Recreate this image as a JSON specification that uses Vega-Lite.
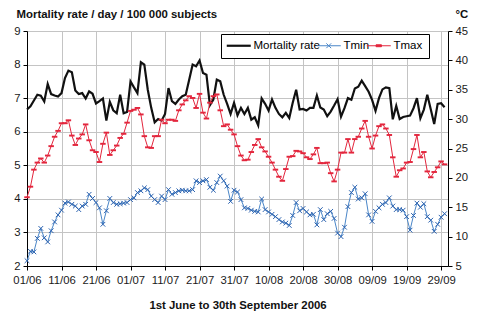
{
"$schema":"https://vega.github.io/schema/vega-lite/v6.json",
"width":421,"height":235,
"autosize":{"type":"none"},
"padding":{"left":27,"top":31,"right":48,"bottom":58},
"background":"#ffffff",
"config":{"font":"Liberation Sans","view":{"stroke":null},
"axis":{"domainColor":"#000","domainWidth":1,"tickColor":"#000","tickSize":4,"labelColor":"#1a1a1a","labelFont":"Liberation Sans","labelFontSize":11.3,"labelOverlap":false,"gridColor":"#c4c4c4","gridWidth":1,"titleFont":"Liberation Sans","titleFontSize":11.4,"titleFontWeight":"bold","titleColor":"#111"}},
"data":{"values":[
{"date":"2006-06-01","mortality":6.66,"tmin":5.9,"tmax":16.7},
{"date":"2006-06-02","mortality":6.76,"tmin":7.5,"tmax":18.5},
{"date":"2006-06-03","mortality":6.93,"tmin":7.4,"tmax":21.4},
{"date":"2006-06-04","mortality":7.10,"tmin":9.7,"tmax":22.6},
{"date":"2006-06-05","mortality":7.07,"tmin":11.4,"tmax":23.3},
{"date":"2006-06-06","mortality":6.90,"tmin":9.8,"tmax":22.6},
{"date":"2006-06-07","mortality":7.42,"tmin":9.1,"tmax":23.8},
{"date":"2006-06-08","mortality":7.12,"tmin":11.0,"tmax":25.4},
{"date":"2006-06-09","mortality":7.08,"tmin":12.5,"tmax":27.0},
{"date":"2006-06-10","mortality":7.05,"tmin":13.7,"tmax":28.0},
{"date":"2006-06-11","mortality":7.15,"tmin":14.5,"tmax":29.3},
{"date":"2006-06-12","mortality":7.60,"tmin":15.7,"tmax":29.3},
{"date":"2006-06-13","mortality":7.82,"tmin":15.9,"tmax":29.8},
{"date":"2006-06-14","mortality":7.77,"tmin":15.5,"tmax":27.2},
{"date":"2006-06-15","mortality":7.23,"tmin":15.2,"tmax":25.6},
{"date":"2006-06-16","mortality":7.12,"tmin":14.6,"tmax":26.7},
{"date":"2006-06-17","mortality":7.15,"tmin":15.2,"tmax":27.4},
{"date":"2006-06-18","mortality":6.99,"tmin":15.5,"tmax":29.1},
{"date":"2006-06-19","mortality":7.20,"tmin":17.2,"tmax":26.4},
{"date":"2006-06-20","mortality":7.13,"tmin":16.5,"tmax":24.7},
{"date":"2006-06-21","mortality":6.84,"tmin":15.8,"tmax":24.4},
{"date":"2006-06-22","mortality":6.91,"tmin":14.9,"tmax":22.7},
{"date":"2006-06-23","mortality":6.99,"tmin":12.1,"tmax":25.8},
{"date":"2006-06-24","mortality":6.33,"tmin":14.4,"tmax":27.7},
{"date":"2006-06-25","mortality":6.89,"tmin":16.5,"tmax":23.9},
{"date":"2006-06-26","mortality":6.64,"tmin":15.8,"tmax":24.7},
{"date":"2006-06-27","mortality":6.55,"tmin":15.5,"tmax":25.5},
{"date":"2006-06-28","mortality":7.10,"tmin":15.6,"tmax":26.8},
{"date":"2006-06-29","mortality":6.55,"tmin":15.7,"tmax":27.5},
{"date":"2006-06-30","mortality":6.59,"tmin":15.8,"tmax":29.4},
{"date":"2006-07-01","mortality":7.50,"tmin":16.3,"tmax":31.4},
{"date":"2006-07-02","mortality":7.32,"tmin":16.6,"tmax":31.6},
{"date":"2006-07-03","mortality":7.15,"tmin":17.5,"tmax":31.9},
{"date":"2006-07-04","mortality":8.07,"tmin":17.8,"tmax":30.8},
{"date":"2006-07-05","mortality":8.00,"tmin":18.3,"tmax":27.1},
{"date":"2006-07-06","mortality":7.25,"tmin":18.0,"tmax":25.2},
{"date":"2006-07-07","mortality":6.71,"tmin":16.9,"tmax":25.1},
{"date":"2006-07-08","mortality":6.28,"tmin":16.3,"tmax":27.1},
{"date":"2006-07-09","mortality":6.38,"tmin":15.8,"tmax":27.1},
{"date":"2006-07-10","mortality":6.33,"tmin":16.9,"tmax":29.9},
{"date":"2006-07-11","mortality":6.53,"tmin":16.3,"tmax":29.3},
{"date":"2006-07-12","mortality":7.30,"tmin":18.0,"tmax":29.9},
{"date":"2006-07-13","mortality":6.91,"tmin":17.2,"tmax":29.9},
{"date":"2006-07-14","mortality":6.83,"tmin":17.5,"tmax":29.7},
{"date":"2006-07-15","mortality":6.96,"tmin":17.8,"tmax":31.5},
{"date":"2006-07-16","mortality":7.06,"tmin":17.9,"tmax":32.5},
{"date":"2006-07-17","mortality":7.10,"tmin":17.8,"tmax":33.2},
{"date":"2006-07-18","mortality":7.55,"tmin":17.8,"tmax":33.9},
{"date":"2006-07-19","mortality":8.00,"tmin":18.0,"tmax":33.6},
{"date":"2006-07-20","mortality":7.95,"tmin":19.5,"tmax":31.9},
{"date":"2006-07-21","mortality":8.12,"tmin":19.2,"tmax":34.3},
{"date":"2006-07-22","mortality":7.75,"tmin":19.5,"tmax":31.1},
{"date":"2006-07-23","mortality":7.70,"tmin":19.7,"tmax":30.1},
{"date":"2006-07-24","mortality":6.79,"tmin":18.4,"tmax":32.8},
{"date":"2006-07-25","mortality":6.96,"tmin":17.9,"tmax":33.9},
{"date":"2006-07-26","mortality":7.55,"tmin":19.2,"tmax":34.2},
{"date":"2006-07-27","mortality":7.50,"tmin":20.3,"tmax":31.5},
{"date":"2006-07-28","mortality":7.10,"tmin":19.5,"tmax":28.8},
{"date":"2006-07-29","mortality":6.83,"tmin":18.6,"tmax":29.1},
{"date":"2006-07-30","mortality":6.53,"tmin":16.0,"tmax":28.2},
{"date":"2006-07-31","mortality":6.86,"tmin":17.9,"tmax":27.4},
{"date":"2006-08-01","mortality":6.49,"tmin":17.6,"tmax":25.4},
{"date":"2006-08-02","mortality":6.71,"tmin":16.3,"tmax":23.8},
{"date":"2006-08-03","mortality":6.53,"tmin":14.9,"tmax":23.0},
{"date":"2006-08-04","mortality":6.71,"tmin":14.8,"tmax":23.1},
{"date":"2006-08-05","mortality":6.36,"tmin":14.5,"tmax":24.4},
{"date":"2006-08-06","mortality":6.43,"tmin":14.3,"tmax":25.6},
{"date":"2006-08-07","mortality":6.19,"tmin":14.2,"tmax":26.6},
{"date":"2006-08-08","mortality":6.99,"tmin":16.4,"tmax":25.2},
{"date":"2006-08-09","mortality":6.83,"tmin":14.6,"tmax":24.5},
{"date":"2006-08-10","mortality":6.63,"tmin":14.2,"tmax":23.6},
{"date":"2006-08-11","mortality":6.96,"tmin":13.8,"tmax":22.6},
{"date":"2006-08-12","mortality":6.71,"tmin":13.4,"tmax":21.4},
{"date":"2006-08-13","mortality":6.53,"tmin":12.9,"tmax":20.2},
{"date":"2006-08-14","mortality":6.43,"tmin":12.5,"tmax":19.5},
{"date":"2006-08-15","mortality":6.56,"tmin":12.3,"tmax":21.5},
{"date":"2006-08-16","mortality":6.41,"tmin":11.9,"tmax":23.6},
{"date":"2006-08-17","mortality":6.86,"tmin":13.6,"tmax":23.7},
{"date":"2006-08-18","mortality":7.25,"tmin":15.8,"tmax":24.6},
{"date":"2006-08-19","mortality":6.66,"tmin":14.4,"tmax":24.5},
{"date":"2006-08-20","mortality":6.68,"tmin":14.8,"tmax":24.2},
{"date":"2006-08-21","mortality":6.63,"tmin":14.2,"tmax":23.5},
{"date":"2006-08-22","mortality":6.71,"tmin":13.7,"tmax":23.2},
{"date":"2006-08-23","mortality":6.71,"tmin":13.8,"tmax":24.0},
{"date":"2006-08-24","mortality":7.08,"tmin":12.0,"tmax":25.1},
{"date":"2006-08-25","mortality":6.72,"tmin":14.6,"tmax":22.5},
{"date":"2006-08-26","mortality":6.66,"tmin":12.9,"tmax":22.5},
{"date":"2006-08-27","mortality":6.46,"tmin":13.9,"tmax":22.6},
{"date":"2006-08-28","mortality":6.60,"tmin":14.3,"tmax":20.8},
{"date":"2006-08-29","mortality":6.78,"tmin":13.1,"tmax":19.4},
{"date":"2006-08-30","mortality":6.97,"tmin":10.6,"tmax":21.4},
{"date":"2006-08-31","mortality":6.45,"tmin":10.0,"tmax":24.3},
{"date":"2006-09-01","mortality":6.70,"tmin":11.6,"tmax":24.3},
{"date":"2006-09-02","mortality":7.00,"tmin":15.1,"tmax":26.6},
{"date":"2006-09-03","mortality":6.95,"tmin":17.5,"tmax":24.3},
{"date":"2006-09-04","mortality":7.29,"tmin":18.4,"tmax":26.6},
{"date":"2006-09-05","mortality":7.34,"tmin":16.4,"tmax":27.0},
{"date":"2006-09-06","mortality":7.52,"tmin":16.6,"tmax":28.4},
{"date":"2006-09-07","mortality":7.36,"tmin":17.3,"tmax":29.7},
{"date":"2006-09-08","mortality":7.19,"tmin":13.7,"tmax":27.0},
{"date":"2006-09-09","mortality":6.95,"tmin":12.6,"tmax":25.0},
{"date":"2006-09-10","mortality":6.62,"tmin":14.3,"tmax":27.2},
{"date":"2006-09-11","mortality":7.00,"tmin":14.9,"tmax":28.8},
{"date":"2006-09-12","mortality":7.26,"tmin":15.5,"tmax":29.1},
{"date":"2006-09-13","mortality":7.32,"tmin":15.8,"tmax":28.4},
{"date":"2006-09-14","mortality":7.30,"tmin":16.6,"tmax":27.3},
{"date":"2006-09-15","mortality":6.37,"tmin":15.2,"tmax":23.5},
{"date":"2006-09-16","mortality":6.77,"tmin":14.6,"tmax":20.2},
{"date":"2006-09-17","mortality":6.38,"tmin":14.6,"tmax":21.3},
{"date":"2006-09-18","mortality":6.44,"tmin":14.5,"tmax":21.6},
{"date":"2006-09-19","mortality":6.46,"tmin":13.4,"tmax":22.6},
{"date":"2006-09-20","mortality":6.48,"tmin":11.1,"tmax":22.7},
{"date":"2006-09-21","mortality":6.70,"tmin":13.6,"tmax":24.9},
{"date":"2006-09-22","mortality":7.00,"tmin":15.7,"tmax":27.3},
{"date":"2006-09-23","mortality":6.40,"tmin":15.0,"tmax":23.5},
{"date":"2006-09-24","mortality":6.66,"tmin":15.6,"tmax":24.4},
{"date":"2006-09-25","mortality":7.10,"tmin":13.4,"tmax":21.1},
{"date":"2006-09-26","mortality":6.67,"tmin":12.8,"tmax":20.1},
{"date":"2006-09-27","mortality":6.23,"tmin":10.9,"tmax":21.0},
{"date":"2006-09-28","mortality":6.83,"tmin":12.1,"tmax":21.8},
{"date":"2006-09-29","mortality":6.85,"tmin":13.3,"tmax":22.8},
{"date":"2006-09-30","mortality":6.73,"tmin":13.9,"tmax":22.3}
]},
"encoding":{"x":{"field":"date","type":"temporal",
 "scale":{"type":"utc","domain":[{"year":2006,"month":6,"date":1,"utc":true},{"year":2006,"month":10,"date":1,"utc":true}]},
 "axis":{"values":[{"year":2006,"month":6,"date":1,"utc":true},{"year":2006,"month":6,"date":11,"utc":true},{"year":2006,"month":6,"date":21,"utc":true},{"year":2006,"month":7,"date":1,"utc":true},{"year":2006,"month":7,"date":11,"utc":true},{"year":2006,"month":7,"date":21,"utc":true},{"year":2006,"month":7,"date":31,"utc":true},{"year":2006,"month":8,"date":10,"utc":true},{"year":2006,"month":8,"date":20,"utc":true},{"year":2006,"month":8,"date":30,"utc":true},{"year":2006,"month":9,"date":9,"utc":true},{"year":2006,"month":9,"date":19,"utc":true},{"year":2006,"month":9,"date":29,"utc":true}],
  "labelExpr":"utcFormat(datum.value, '%d/%m')","labelAngle":0,"labelPadding":4,"labelFlush":false,"grid":true,
  "title":"1st June to 30th September 2006","titlePadding":14}}},
"layer":[
 {"mark":{"type":"line","strokeWidth":2.2,"interpolate":"linear"},
  "encoding":{
   "y":{"field":"mortality","type":"quantitative","scale":{"domain":[2,9],"nice":false,"zero":false},
    "axis":{"values":[2,3,4,5,6,7,8,9],"grid":true,"labelPadding":3,"title":"Mortality rate / day / 100 000 subjects","titleAngle":0,"titleAlign":"left","titleBaseline":"middle","titleX":-11,"titleY":-17}},
   "color":{"datum":"Mortality rate","type":"nominal",
    "scale":{"domain":["Mortality rate","Tmin","Tmax"],"range":["#111111","#4a86c8","#e3263d"]},
    "legend":{"orient":"none","legendX":194,"legendY":3,"direction":"horizontal","title":null,
     "strokeColor":"#000","fillColor":"#fff","padding":6,"symbolSize":144,"symbolOffset":6,"labelOffset":9,"columnPadding":-6,"gridAlign":"none",
     "labelFont":"Liberation Sans","labelFontSize":11.5,"labelColor":"#000",
     "symbolType":"stroke",
     "encode":{"symbols":{"update":{
      "shape":{"signal":"datum.value === 'Mortality rate' ? 'M-2,0H2' : (datum.value === 'Tmin' ? 'M-2,0H2M-0.4,-0.4L0.4,0.4M-0.4,0.4L0.4,-0.4' : 'M-2,0H2M-0.45,-0.16H0.45V0.16H-0.45Z')"},
      "strokeWidth":{"signal":"datum.value === 'Mortality rate' ? 2.2 : 1"},
      "fill":{"signal":"datum.value === 'Tmax' ? '#e3263d' : 'transparent'"},
      "opacity":{"value":1}}}}}}}},
 {"layer":[
  {"mark":{"type":"line","strokeWidth":1},
   "encoding":{"y":{"field":"tmin","type":"quantitative","scale":{"domain":[5,45],"nice":false,"zero":false},
     "axis":{"orient":"right","values":[5,10,15,20,25,30,35,40,45],"labelOverlap":false,"grid":false,"labelPadding":3,"title":"°C","titleAngle":0,"titleAlign":"left","titleBaseline":"middle","titleX":7,"titleY":-17}},
    "color":{"datum":"Tmin","type":"nominal"}}},
  {"mark":{"type":"point","shape":"M-1,-1L1,1M-1,1L1,-1","size":22,"filled":false,"strokeWidth":1,"color":"#2c63b0","opacity":1},
   "encoding":{"y":{"field":"tmin","type":"quantitative",
     "axis":{"orient":"right","values":[5,10,15,20,25,30,35,40,45],"labelOverlap":false,"grid":false,"labelPadding":3,"title":"°C","titleAngle":0,"titleAlign":"left","titleBaseline":"middle","titleX":7,"titleY":-17}}}},
  {"mark":{"type":"line","strokeWidth":1},
   "encoding":{"y":{"field":"tmax","type":"quantitative",
     "axis":{"orient":"right","values":[5,10,15,20,25,30,35,40,45],"labelOverlap":false,"grid":false,"labelPadding":3,"title":"°C","titleAngle":0,"titleAlign":"left","titleBaseline":"middle","titleX":7,"titleY":-17}},
    "color":{"datum":"Tmax","type":"nominal"}}},
  {"mark":{"type":"point","shape":"M-1,-0.35H1V0.35H-1Z","size":30,"filled":true,"color":"#e3263d","opacity":1,"strokeWidth":0},
   "encoding":{"y":{"field":"tmax","type":"quantitative",
     "axis":{"orient":"right","values":[5,10,15,20,25,30,35,40,45],"labelOverlap":false,"grid":false,"labelPadding":3,"title":"°C","titleAngle":0,"titleAlign":"left","titleBaseline":"middle","titleX":7,"titleY":-17}}}}
 ]}
],
"resolve":{"scale":{"y":"independent"}}
}
